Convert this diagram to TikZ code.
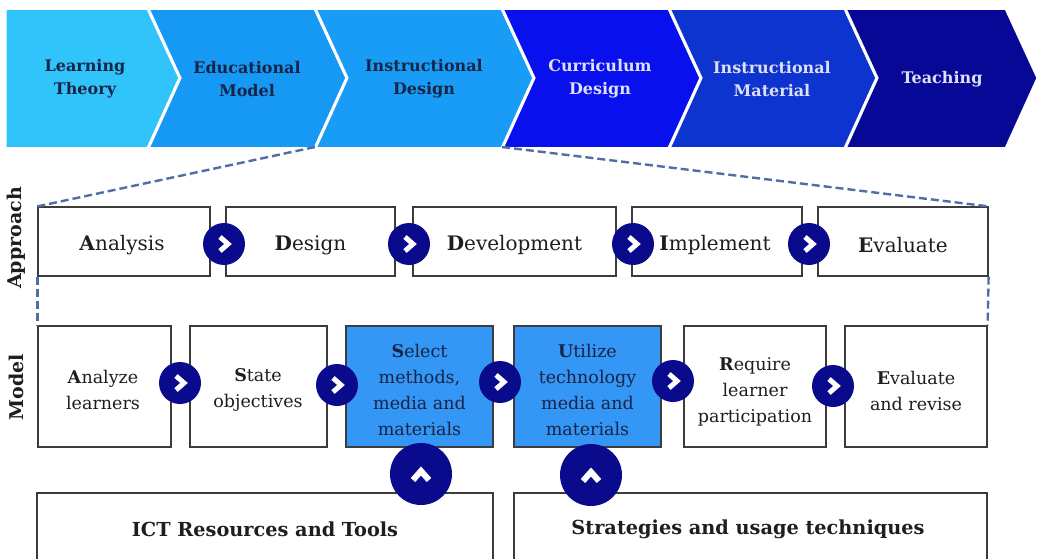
\documentclass[tikz,border=0pt]{standalone}
\usepackage{fontspec}
\setmainfont{DejaVu Serif}
\usetikzlibrary{calc}
\definecolor{cLT}{RGB}{48,196,250}
\definecolor{cEM}{RGB}{22,152,245}
\definecolor{cID}{RGB}{24,156,246}
\definecolor{cCD}{RGB}{8,16,238}
\definecolor{cIM}{RGB}{14,52,208}
\definecolor{cTE}{RGB}{8,8,150}
\definecolor{darktxt}{RGB}{24,36,70}
\definecolor{lighttxt}{RGB}{222,224,246}
\definecolor{navy}{RGB}{10,10,140}
\definecolor{selblue}{RGB}{52,150,245}
\definecolor{dashcol}{RGB}{80,110,165}
\definecolor{boxline}{RGB}{60,60,60}
\definecolor{boxtxt}{RGB}{30,30,30}
\tikzset{
  chev/.style={draw=white, line width=3pt, line join=miter},
  toplabel/.style={align=center, font=\fontsize{16}{23}\selectfont\bfseries, inner sep=0pt},
  stepbox/.style={draw=boxline, line width=1.2pt, fill=white, inner sep=0pt,
    minimum height=69pt},
  steptext/.style={inner sep=0pt, font=\fontsize{20}{24}\selectfont, text=boxtxt},
  modelbox/.style={draw=boxline, line width=1.2pt, fill=white, inner sep=0pt,
    minimum height=121pt},
  selbox/.style={modelbox, fill=selblue},
  mtext/.style={align=center, inner sep=0pt, font=\fontsize{17.5}{26}\selectfont, text=boxtxt},
  basebox/.style={draw=boxline, line width=1.2pt, fill=white},
  btext/.style={inner sep=0pt, font=\fontsize{19.3}{23}\selectfont\bfseries, text=boxtxt},
  navycirc/.style={circle, fill=navy, minimum size=42pt, inner sep=0pt},
  bigcirc/.style={circle, fill=navy, minimum size=62pt, inner sep=0pt},
  icon/.style={draw=white, line width=5pt, line join=miter, line cap=butt},
  bigicon/.style={draw=white, line width=6pt, line join=miter, line cap=butt},
  dashlink/.style={draw=dashcol, line width=2.4pt, dash pattern=on 8pt off 4pt},
  sidelabel/.style={rotate=90, inner sep=0pt, font=\fontsize{19}{22}\selectfont\bfseries, text=boxtxt},
}
\begin{document}
\begin{tikzpicture}[x=1pt,y=-1pt]
\useasboundingbox (0,0) rectangle (1038,559);
\fill[white] (0,0) rectangle (1038,559);

% ---- process chevrons ----
\filldraw[chev, fill=cLT] (5,8.5) -- (148,8.5) -- (180,78) -- (148,148.5) -- (5,148.5) -- cycle;
\filldraw[chev, fill=cEM] (148,8.5) -- (315,8.5) -- (347,78) -- (315,148.5) -- (148,148.5) -- (180,78) -- cycle;
\filldraw[chev, fill=cID] (315,8.5) -- (502,8.5) -- (534,78) -- (502,148.5) -- (315,148.5) -- (347,78) -- cycle;
\filldraw[chev, fill=cCD] (502,8.5) -- (669,8.5) -- (701,78) -- (669,148.5) -- (502,148.5) -- (534,78) -- cycle;
\filldraw[chev, fill=cIM] (669,8.5) -- (845,8.5) -- (877,78) -- (845,148.5) -- (669,148.5) -- (701,78) -- cycle;
\filldraw[chev, fill=cTE] (845,8.5) -- (1006,8.5) -- (1038,78) -- (1006,148.5) -- (845,148.5) -- (877,78) -- cycle;
\coordinate (idBL) at (315,147);
\coordinate (idBR) at (502,147);

\node[toplabel, text=darktxt] (lt) at (85,79) {Learning\\Theory};
\node[toplabel, text=darktxt] (em) at (247,79) {Educational\\Model};
\node[toplabel, text=darktxt] (id) at (424,79) {Instructional\\Design};
\node[toplabel, text=lighttxt] (cd) at (600,79) {Curriculum\\Design};
\node[toplabel, text=lighttxt] (im) at (772,79) {Instructional\\Material};
\node[toplabel, text=lighttxt] (te) at (942,79) {Teaching};

% ---- side labels ----
\node[sidelabel] (approach) at (16,238) {Approach};
\node[sidelabel] (model) at (16,387) {Model};

% ---- approach row ----
\node[stepbox, minimum width=172pt] (an) at (124,241.5) {};
\node[stepbox, minimum width=169pt] (de) at (310.5,241.5) {};
\node[stepbox, minimum width=203pt] (dv) at (514.5,241.5) {};
\node[stepbox, minimum width=170pt] (ip) at (717,241.5) {};
\node[stepbox, minimum width=170pt] (ev) at (903,241.5) {};
\node[steptext] at (122,245) {\textbf{A}nalysis};
\node[steptext] at (310.5,245) {\textbf{D}esign};
\node[steptext] at (514.5,245) {\textbf{D}evelopment};
\node[steptext] at (715,245) {\textbf{I}mplement};
\node[steptext] at (903,245) {\textbf{E}valuate};

% ---- model row ----
\node[modelbox, minimum width=133pt] (m1) at (104.5,386.5) {};
\node[modelbox, minimum width=137pt] (m2) at (258.5,386.5) {};
\node[selbox, minimum width=147pt] (m3) at (419.5,386.5) {};
\node[selbox, minimum width=147pt] (m4) at (587.5,386.5) {};
\node[modelbox, minimum width=142pt] (m5) at (755,386.5) {};
\node[modelbox, minimum width=142pt] (m6) at (916,386.5) {};
\node[mtext] (t1) at (103,390) {\textbf{A}nalyze\\learners};
\node[mtext] (t2) at (258,390) {\textbf{S}tate\\objectives};
\node[mtext, text=darktxt] (t3) at (419.5,390) {\textbf{S}elect\\methods,\\media and\\materials};
\node[mtext, text=darktxt] (t4) at (587.5,390) {\textbf{U}tilize\\technology\\media and\\materials};
\node[mtext] (t5) at (755,392) {\textbf{R}equire\\learner\\participation};
\node[mtext] (t6) at (916,391) {\textbf{E}valuate\\and revise};

% ---- resource boxes ----
\draw[basebox] (37,493) rectangle (493,580);
\draw[basebox] (514,493) rectangle (987,580);
\node[btext] (ict) at (265,529) {ICT Resources and Tools};
\node[btext] (str) at (748,529) {Strategies and usage techniques};

% ---- zoom-in guides ----
\draw[dashlink] (idBL) -- (an.north west);
\draw[dashlink] (idBR) -- (ev.north east);
\draw[dashlink] (an.south west) -- (m1.north west);
\draw[dashlink] (ev.south east) -- (m6.north east);

% ---- step connectors ----
\node[navycirc] (a1) at (224,244) {};
\node[navycirc] (a2) at (409,244) {};
\node[navycirc] (a3) at (633,244) {};
\node[navycirc] (a4) at (809,244) {};
\node[navycirc] (b1) at (180,383) {};
\node[navycirc] (b2) at (337,385) {};
\node[navycirc] (b3) at (500,382) {};
\node[navycirc] (b4) at (673,381) {};
\node[navycirc] (b5) at (833,386) {};
\foreach \c in {a1,a2,a3,a4,b1,b2,b3,b4,b5}{
  \draw[icon] ([shift={(-4,-7)}]\c.center) -- ([shift={(4,0)}]\c.center) -- ([shift={(-4,7)}]\c.center);
}
\node[bigcirc] (u1) at (421,474) {};
\node[bigcirc] (u2) at (591,475) {};
\foreach \c in {u1,u2}{
  \draw[bigicon] ([shift={(-8,6)}]\c.center) -- ([shift={(0,-3)}]\c.center) -- ([shift={(8,6)}]\c.center);
}
\end{tikzpicture}
\end{document}
